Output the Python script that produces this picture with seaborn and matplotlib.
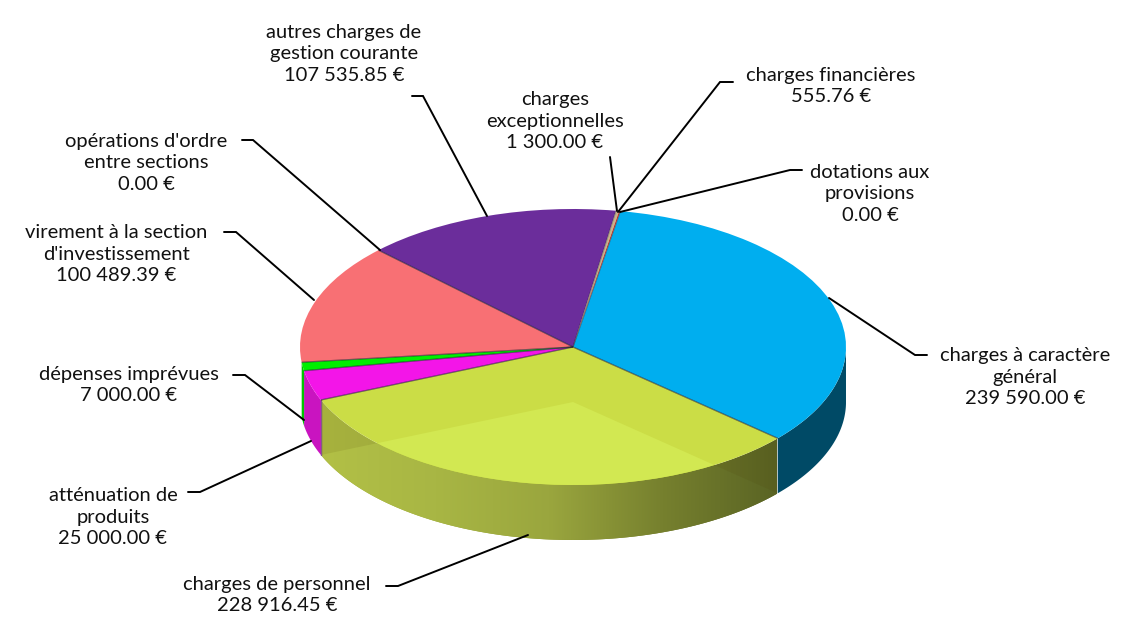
import numpy as np
import seaborn as sns
import matplotlib.pyplot as plt
from matplotlib.colors import LinearSegmentedColormap, to_rgb
from matplotlib.patches import Polygon

# --- donnees ---
postes = ["charges à caractère\ngénéral", "charges de personnel", "atténuation de\nproduits",
          "dépenses imprévues", "virement à la section\nd'investissement",
          "opérations d'ordre\nentre sections", "autres charges de\ngestion courante",
          "charges\nexceptionnelles", "charges financières", "dotations aux\nprovisions"]
montants = [239590.00, 228916.45, 25000.00, 7000.00, 100489.39, 0.00, 107535.85, 1300.00, 555.76, 0.00]
couleurs = ["#00aeef", "#cbdd46", "#f315e8", "#00f000", "#f87074",
            "#f87074", "#6b2d9b", "#c8b48c", "#d0402c", "#d0402c"]
parois = ["#004a66", None, "#c914c0", "#00c400", None, None, None, None, None, None]

# placement: centre du texte et trait de rappel (pixels de l'image)
label_xy = [(1025, 377), (277, 595), (113, 517), (129, 385), (116, 254),
            (146, 163), (344, 54), (555, 121), (831, 86), (870, 194)]
rappels = [[(927, 355), (915, 355), (829, 298)],
           [(386, 586), (398, 586), (528, 535)],
           [(188, 492), (200, 492), (311, 441)],
           [(233, 375), (245, 375), (304, 420)],
           [(224, 232), (236, 232), (314, 300)],
           [(242, 140), (253, 140), (380, 250)],
           [(412, 96), (423, 96), (487, 216)],
           [(610, 157), (617, 211)],
           [(733, 82), (720, 82), (618, 212)],
           [(802, 170), (790, 170), (620, 212)]]

W, H = 1126, 617
CX, CY, RX, RY = 573, 347, 273, 138
EP = 55 / RY  # epaisseur du camembert

sns.set_theme(style="white")
plt.rcParams['font.family'] = ['Lato', 'DejaVu Sans']

fig = plt.figure(figsize=(W / 100, H / 100), dpi=100)
ax = fig.add_axes([0, 0, 1, 1])
wedges, _ = ax.pie(montants, colors=sns.color_palette(couleurs), startangle=80, counterclock=False,
                   radius=1, center=(0, 0), wedgeprops=dict(linewidth=0, zorder=5))


def contour_paroi(t1, t2):
    t = np.radians(np.linspace(t1, t2, 200))
    t = t[np.sin(t) <= 0.001]
    haut = np.column_stack([np.cos(t), np.sin(t)])
    bas = np.column_stack([np.cos(t), np.sin(t) - EP])[::-1]
    return np.vstack([haut, bas])


# parois simples
for w, c in zip(wedges, parois):
    if c is not None:
        ax.add_patch(Polygon(contour_paroi(w.theta1, w.theta2), fc=c, ec="none", zorder=2))

# --- tranche "personnel": paroi translucide avec degrade ---
pers = wedges[1]
degrade = LinearSegmentedColormap.from_list("paroi", ["#b2c046", "#a8b644", "#9aa63e", "#76802e", "#5a6424"])
extent = [(322 - CX) / RX, (777 - CX) / RX, -1.5, 0.5]
gris = np.linspace(0, 1, 256).reshape(1, -1)
paroi_pers = Polygon(contour_paroi(pers.theta1, pers.theta2), fc="none", ec="none", zorder=2)
ax.add_patch(paroi_pers)
img = ax.imshow(gris, cmap=degrade, extent=extent, aspect="auto", zorder=2.1)
img.set_clip_path(paroi_pers)
voile = Polygon(contour_paroi(pers.theta1, pers.theta2), fc="#4a3a00", alpha=0.1, ec="none", zorder=2.2)
ax.add_patch(voile)

# fond de la tranche vu a travers la paroi
t = np.radians(np.linspace(pers.theta1, pers.theta2, 200))
fond_xy = np.vstack([[0, -EP], np.column_stack([np.cos(t), np.sin(t) - EP])])
fond = Polygon(fond_xy, fc="none", ec="none", zorder=2.3)
ax.add_patch(fond)
img2 = ax.imshow(gris, cmap=degrade, extent=extent, aspect="auto", zorder=2.4)
img2.set_clip_path(fond)
clair = Polygon(fond_xy, fc="#d2e852", ec="none", zorder=6)
ax.add_patch(clair)
clair.set_clip_path(pers)

# traits sombres entre les tranches
for w in wedges:
    if w.theta2 - w.theta1 > 1.5:
        for a in (w.theta1, w.theta2):
            ax.plot([0, np.cos(np.radians(a))], [0, np.sin(np.radians(a))],
                    color="#222233", alpha=0.35, lw=0.9, zorder=7, solid_capstyle="butt")

# arrete verticale de gauche
a = np.radians(pers.theta1)
ax.plot([np.cos(a)] * 2, [np.sin(a), np.sin(a) - EP], color="#5a1a60", lw=1, alpha=0.7, zorder=7)

ax.set_aspect("auto")
ax.set_xlim(-CX / RX, (W - CX) / RX)
ax.set_ylim((CY - H) / RY, CY / RY)
ax.axis("off")

# --- etiquettes, en pixels ---
ov = fig.add_axes([0, 0, 1, 1], facecolor="none")
ov.set_xlim(0, W)
ov.set_ylim(H, 0)
ov.axis("off")
for nom, val, (x, y), trait in zip(postes, montants, label_xy, rappels):
    txt = f"{nom}\n{val:,.2f} €".replace(",", " ")
    ov.text(x, y, txt, ha="center", va="center", fontsize=14.5, color="#111111", linespacing=1.33)
    xs, ys = zip(*trait)
    ov.plot(xs, ys, color="black", lw=1.4, solid_joinstyle="miter")

fig.savefig("out.png", dpi=100)
